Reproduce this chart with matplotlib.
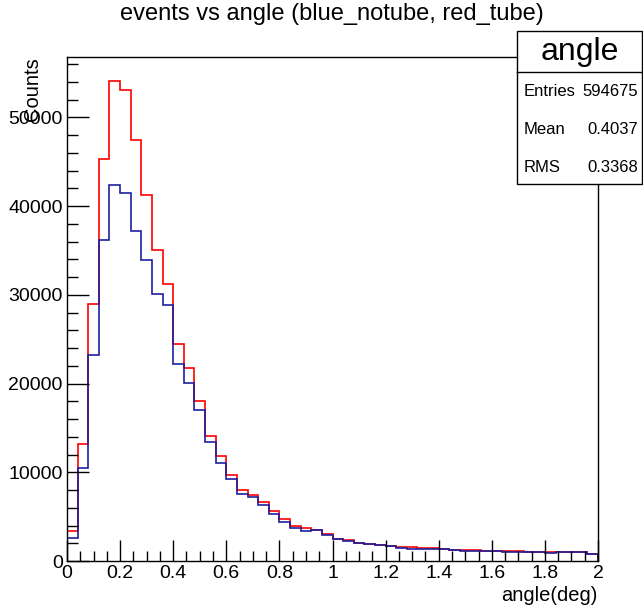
import numpy as np
import matplotlib.pyplot as plt
from matplotlib.patches import Rectangle
from matplotlib.ticker import MultipleLocator

# angle bins: 50 bins from 0 to 2 deg
edges = np.linspace(0, 2, 51)

red_tube = [3400, 13200, 29000, 45300, 54100, 53100, 47400, 41250, 35000, 31250,
            24500, 21800, 18000, 14100, 11850, 9700, 8000, 7400, 6650, 5600,
            4750, 3900, 3700, 3500, 3000, 2500, 2370, 2050, 1950, 1800,
            1730, 1600, 1550, 1450, 1450, 1320, 1280, 1240, 1240, 1130,
            1130, 1100, 1130, 1000, 1000, 1000, 980, 980, 980, 820]

blue_notube = [2550, 10500, 23250, 36200, 42400, 41500, 37200, 33900, 30050, 28800,
               22200, 20100, 17050, 13450, 11100, 9250, 7600, 7200, 6350, 5350,
               4400, 3750, 3400, 3500, 2950, 2450, 2220, 2000, 1900, 1780,
               1700, 1450, 1400, 1380, 1350, 1300, 1280, 1150, 1150, 1130,
               1130, 1050, 1020, 1000, 1000, 900, 980, 980, 980, 820]

stats_names = ['Entries', 'Mean', 'RMS']
stats_vals = ['594675', '0.4037', '0.3368']

plt.rcParams['font.family'] = ['Liberation Sans', 'DejaVu Sans']

fig = plt.figure(figsize=(6.43, 6.05), dpi=100)
ax = fig.add_axes([67/643, 1 - 561/605, (598 - 67)/643, (561 - 57)/605])

ax.stairs(red_tube, edges, color='#ff0000', lw=1.2)
ax.stairs(blue_notube, edges, color='#1f1fa0', lw=1.2)

ax.set_xlim(0, 2)
ax.set_ylim(0, 1.05 * max(red_tube))
ax.xaxis.set_major_locator(MultipleLocator(0.2))
ax.xaxis.set_minor_locator(MultipleLocator(0.05))
ax.yaxis.set_major_locator(MultipleLocator(10000))
ax.yaxis.set_minor_locator(MultipleLocator(2000))
ax.xaxis.set_major_formatter(plt.FuncFormatter(lambda v, p: ('%g' % round(v, 2))))
ax.tick_params(which='both', direction='in', top=False, right=False, labelsize=14, width=1)
ax.tick_params(axis='x', which='major', length=15, pad=3)
ax.tick_params(axis='x', which='minor', length=7)
ax.tick_params(axis='y', which='major', length=16, pad=3)
ax.tick_params(axis='y', which='minor', length=8)
for s in ax.spines.values():
    s.set_linewidth(1)

ax.set_xlabel('angle(deg)', fontsize=14.5, loc='right')
ax.xaxis.set_label_coords(1.0, -0.05)
ax.set_ylabel('Counts', fontsize=14.5, loc='top')
ax.yaxis.set_label_coords(-0.047, 1.0)

fig.text(332 / 643, 1 - 14 / 605, 'events vs angle (blue_notube, red_tube)',
         ha='center', va='center', fontsize=17)

# stats box
bx0, by0, bx1, by1 = 517, 31, 642, 184
fig.patches.append(Rectangle((bx0 / 643, 1 - by1 / 605), (bx1 - bx0) / 643, (by1 - by0) / 605,
                             transform=fig.transFigure, facecolor='white', edgecolor='black',
                             lw=1, zorder=5))
fig.add_artist(plt.Line2D([bx0 / 643, bx1 / 643], [1 - 72 / 605, 1 - 72 / 605],
                          transform=fig.transFigure, color='black', lw=1, zorder=6))
fig.text((bx0 + bx1) / 2 / 643, 1 - 52 / 605, 'angle', ha='center', va='center',
         fontsize=23, zorder=7)
for i, (n, v) in enumerate(zip(stats_names, stats_vals)):
    yy = 1 - (92 + 37.5 * i) / 605
    fig.text(524 / 643, yy, n, ha='left', va='center', fontsize=12, zorder=7)
    fig.text(638 / 643, yy, v, ha='right', va='center', fontsize=12, zorder=7)

fig.savefig('out.png', dpi=100)
